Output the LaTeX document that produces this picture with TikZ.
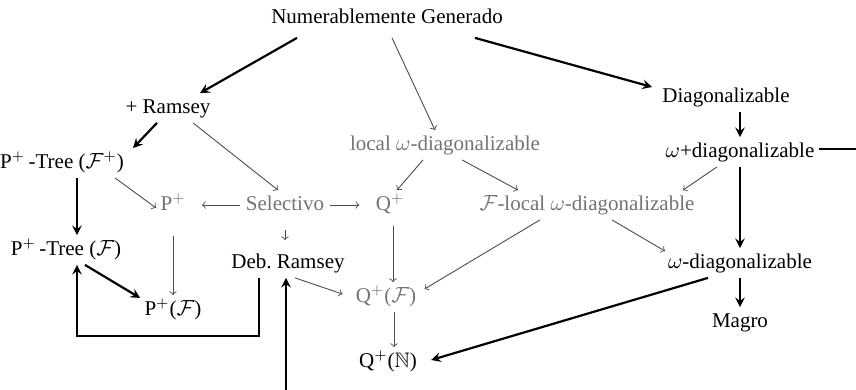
\documentclass[tikz,border=0pt]{standalone}
\usepackage{amsmath,amssymb}
\usepackage{fontspec}
\setmainfont{Liberation Serif}
\usetikzlibrary{arrows, positioning, calc}

\begin{document}
\begin{tikzpicture}[
  prop/.style={inner sep=2pt, text height=8pt, text depth=2.5pt, font=\fontsize{10.5}{12}\selectfont},
  faint/.style={prop, text=black!55},
  strong/.style={->, >=stealth, line width=1.1pt},
  weak/.style={->, >=to, line width=0.45pt, draw=black!70},
  on grid
]
% ── Top ──────────────────────────────────────────────────────
\node[prop] (ng) {Numerablemente Generado};
\useasboundingbox ([xshift=-193.5pt,yshift=9pt]ng.center) rectangle ([xshift=234.5pt,yshift=-186pt]ng.center);

% ── Left branch ──────────────────────────────────────────────
\node[prop, below left=45pt and 109.5pt of ng]   (ram)  {+ Ramsey};
\node[prop, below left=27.5pt and 53pt of ram]   (ptfp) {P$^+$\,-Tree ($\mathcal{F}^+$)};
\node[prop, below right=43.5pt and 2pt of ptfp]  (ptf)  {P$^+$\,-Tree ($\mathcal{F}$)};
\node[faint, below right=48.5pt and 2.5pt of ram] (pp)  {P$^+$};
\node[prop, below=52.5pt of pp]                  (ppf)  {P$^+$($\mathcal{F}$)};

% ── Middle ───────────────────────────────────────────────────
\node[faint, right=56pt of pp]                   (sel)  {Selectivo};
\node[prop, below right=29pt and 1.5pt of sel]   (deb)  {Deb.\ Ramsey};
\node[faint, below right=63.5pt and 29pt of ng]  (loc)  {local $\omega$-diagonalizable};
\node[faint, right=52.5pt of sel]                (qp)   {Q$^+$};
\node[faint, below left=46pt and 2pt of qp]      (qpf)  {Q$^+$($\mathcal{F}$)};
\node[prop, below right=32.5pt and 1pt of qpf]   (qpn)  {Q$^+$($\mathbb{N}$)};
\node[faint, right=98.5pt of qp]                 (floc) {$\mathcal{F}$-local $\omega$-diagonalizable};

% ── Right column ─────────────────────────────────────────────
\node[prop, below right=39.5pt and 169.5pt of ng] (diag)  {Diagonalizable};
\node[prop, below right=27.5pt and 7pt of diag]   (wpd)   {$\omega$+diagonalizable};
\node[prop, below=55.5pt of wpd]                  (wd)    {$\omega$-diagonalizable};
\node[prop, below=29.5pt of wd]                   (magro) {Magro};

% free ends
\coordinate[above right=1.5pt and 60pt of wpd] (wpdout);
\coordinate[below left=65pt and 1pt of deb]    (debin);

% ── Arrows ───────────────────────────────────────────────────
\draw[strong] ([xshift=-45pt,yshift=-2.5pt]ng.south) -- ([xshift=16pt]ram.north);
\draw[weak]   ([xshift=2.5pt,yshift=-2.5pt]ng.south) -- ([xshift=-5pt]loc.north);
\draw[strong] ([xshift=44pt,yshift=-2.5pt]ng.south) -- ([xshift=-3pt,yshift=5pt]diag.west);

\draw[strong] (diag.south -| wpd.north) -- (wpd.north);
\draw[strong, -] ([yshift=1.5pt]wpd.east) -- (wpdout);
\draw[weak]   ([xshift=-11.5pt]wpd.south) -- ([xshift=48pt]floc.north);
\draw[strong] (wpd.south) -- (wd.north);
\draw[weak]   ([xshift=12.5pt]floc.south) -- ([xshift=-37.5pt,yshift=-1.5pt]wd.north);
\draw[strong] (wd.south) -- (magro.north);
\draw[strong] ([xshift=-16pt]wd.south) -- ([xshift=5pt,yshift=1pt]qpn.east);

\draw[weak]   ([xshift=-23.5pt]floc.south) -- ([xshift=2pt,yshift=4pt]qpf.east);
\draw[weak]   ([xshift=-11pt]loc.south) -- ([xshift=3.5pt]qp.north);
\draw[weak]   ([xshift=8.5pt]loc.south) -- ([xshift=-34.5pt]floc.north);

\draw[strong] ([xshift=-5.5pt]ram.south) -- ([xshift=35.5pt]ptfp.north);
\draw[weak]   ([xshift=12.5pt]ram.south) -- ([xshift=-3.5pt]sel.north);
\draw[weak]   ([xshift=26.5pt]ptfp.south) -- ([yshift=-1.5pt]pp.west);
\draw[weak]   ([xshift=-1pt]sel.west) -- ([xshift=6pt]pp.east);
\draw[weak]   ([xshift=1pt]sel.east) -- ([xshift=-6pt]qp.west);
\draw[weak, shorten <=5pt, shorten >=4pt] (sel.south) -- (sel.south |- deb.north);
\draw[weak, shorten <=8pt] (pp.south) -- (pp.south |- ppf.north);

\draw[strong] ([xshift=7.5pt]ptfp.south) -- ([xshift=5.5pt]ptf.north);
\draw[strong] ([xshift=9.5pt]ptf.south) -- ([yshift=6pt]ppf.west);
\draw[strong] ([xshift=-14.5pt]deb.south) -- ++(0,-29pt) -| ([xshift=5.5pt]ptf.south);
\draw[strong] (debin) -- ([xshift=-1pt]deb.south);
\draw[weak]   ([xshift=3.5pt]deb.south) -- ([xshift=-4.5pt,yshift=1.5pt]qpf.west);

\draw[weak, shorten <=3pt] ([xshift=1.5pt]qp.south) -- ([xshift=1.5pt]qp.south |- qpf.north);
\draw[weak] ([xshift=4pt]qpf.south) -- ([xshift=4pt]qpf.south |- qpn.north);
\end{tikzpicture}
\end{document}
